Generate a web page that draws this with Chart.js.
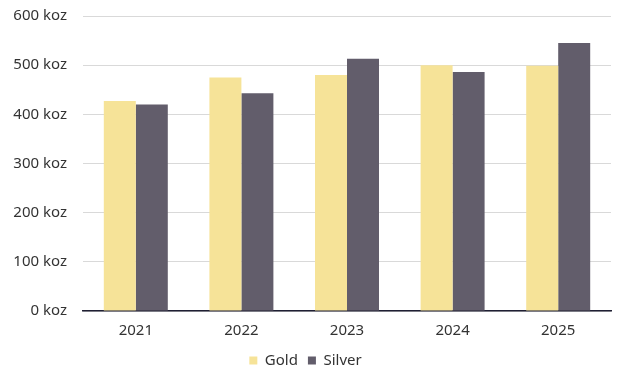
<!DOCTYPE html>
<html>
<head>
<meta charset="utf-8">
<script src="https://cdn.jsdelivr.net/npm/chart.js@4/dist/chart.umd.min.js"></script>
<style>
	html, body { margin: 0; padding: 0; background: #fff; }
	#wrap { width: 627px; height: 382px; }
</style>
</head>
<body>
<div id="wrap"><canvas id="bar-chart"></canvas></div>
<script>
// data (thousand ounces)
var years = ['2021', '2022', '2023', '2024', '2025'];
var goldValues = [427, 475, 480, 500, 499];
var silverValues = [420, 443, 513, 486, 545];
var yTicks = [0, 100, 200, 300, 400, 500, 600];

var initBarChart = function() {
	var ctx = document.getElementById('bar-chart');
	var font = { family: 'Noto Sans', size: 15 };

	new Chart(ctx, {
		type: 'bar',
		data: {
			labels: years,
			datasets: [
				{
					label: 'Gold',
					data: goldValues,
					backgroundColor: '#f6e398',
					categoryPercentage: 0.606,
					barPercentage: 1.0
				},
				{
					label: 'Silver',
					data: silverValues,
					backgroundColor: '#625d6b',
					categoryPercentage: 0.606,
					barPercentage: 1.0
				}
			]
		},
		options: {
			responsive: true,
			maintainAspectRatio: false,
			animation: false,
			layout: { padding: { top: 16, right: 16, bottom: 4, left: 0 } },
			plugins: {
				tooltip: { enabled: false },
				legend: {
					position: 'bottom',
					labels: {
						boxWidth: 8,
						boxHeight: 8,
						padding: 10,
						color: '#333',
						font: font
					}
				}
			},
			scales: {
				x: {
					grid: { display: false },
					border: { display: true, color: '#1f1f33', width: 1.5 },
					ticks: { color: '#333', font: font, padding: 3 }
				},
				y: {
					min: 0,
					max: 600,
					afterBuildTicks: function(scale) {
						scale.ticks = yTicks.map(function(v) { return { value: v }; });
					},
					afterFit: function(scale) {
						scale.width = 83;
						scale.paddingTop = 0;
						scale.paddingBottom = 0;
					},
					grid: { color: '#d9d9d9', drawTicks: false },
					border: { display: false },
					ticks: {
						color: '#333',
						font: font,
						padding: 16,
						callback: function(value) { return value + ' koz'; }
					}
				}
			}
		}
	});
};

initBarChart();
</script>
</body>
</html>
